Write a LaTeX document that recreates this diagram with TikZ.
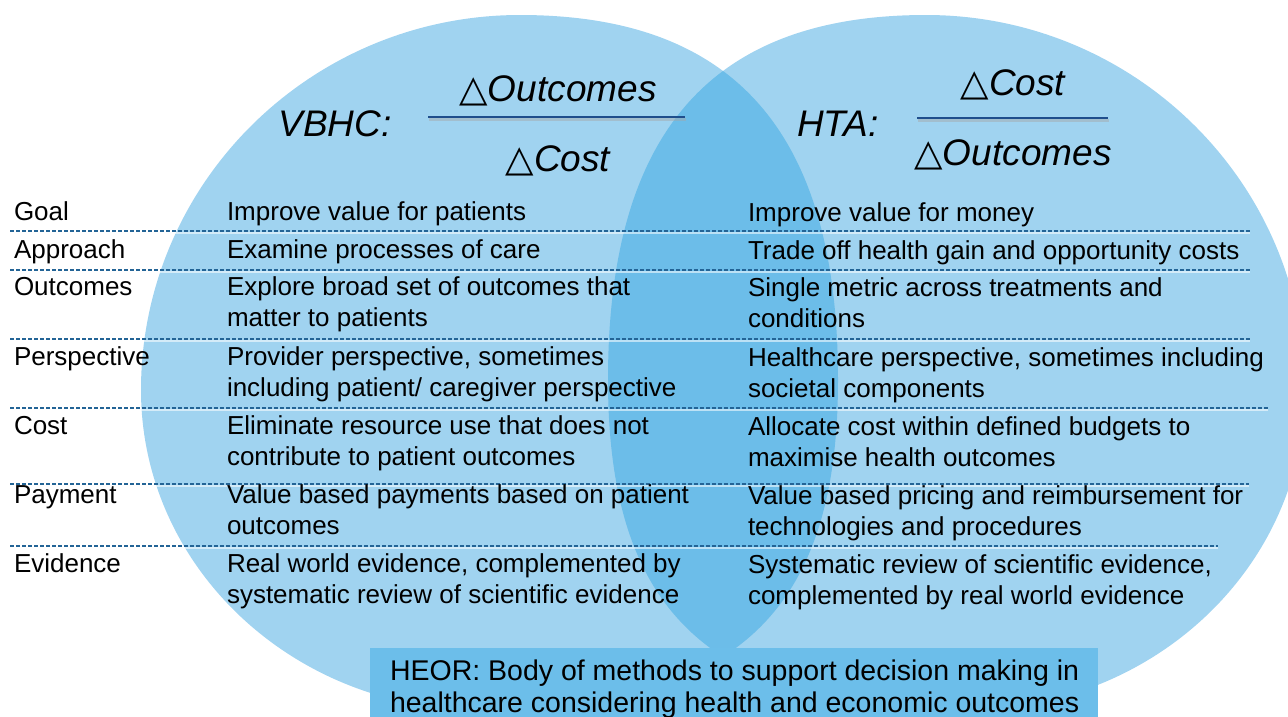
\documentclass[tikz,border=0pt]{standalone}
\usepackage{fontspec}
\setmainfont{Liberation Sans}
\newfontfamily\shapesfont{DejaVu Sans}
\usetikzlibrary{calc}

\definecolor{venn}{RGB}{160,211,240}
\definecolor{lens}{RGB}{108,189,233}
\definecolor{heorfill}{RGB}{108,190,234}
\definecolor{rule}{RGB}{31,78,140}
\definecolor{dashc}{RGB}{35,100,150}

% thin upright triangle used as the "difference" sign
\newcommand{\dsign}{{\upshape\shapesfont △}}

\begin{document}
\begin{tikzpicture}[x=1pt,y=-1pt,
  every node/.style={inner sep=0pt, outer sep=0pt},
  body/.style={anchor=base west, font=\fontsize{26}{31}\selectfont, text=black},
  formula/.style={anchor=base, font=\fontsize{37}{44}\selectfont\itshape, text=black},
  heortext/.style={anchor=base west, font=\fontsize{28.5}{33}\selectfont, text=black},
  fracrule/.style={draw=rule, line width=2.6pt},
  fracshadow/.style={draw=black!35, line width=2.6pt, opacity=0.45},
  rowsep/.style={draw=dashc, line width=1.2pt, dash pattern=on 4pt off 2pt},
  rowsepshadow/.style={draw=white, line width=1.6pt, opacity=0.55},
  % VBHC set: rounder on the outer side, fuller towards the overlap
  leftset/.style={insert path={
    (141,390) .. controls (141,183) and (311,15) .. (520,15)
              .. controls (735,15) and (838,133) .. (838,380)
              .. controls (838,614) and (734,710) .. (480,710)
              .. controls (293,710) and (141,567) .. (141,390) -- cycle}},
  % HTA set: mirror image of the VBHC set
  rightset/.style={insert path={
    (1305,390) .. controls (1305,183) and (1135,15) .. (926,15)
               .. controls (711,15) and (608,133) .. (608,380)
               .. controls (608,614) and (712,710) .. (966,710)
               .. controls (1153,710) and (1305,567) .. (1305,390) -- cycle}},
]
\useasboundingbox (0,0) rectangle (1288,716);
\clip (0,0) rectangle (1288,716);

% the two sets and their overlap
\fill[venn, leftset];
\fill[venn, rightset];
\begin{scope}
  \clip[leftset];
  \fill[lens, rightset];
\end{scope}

% HEOR banner at the bottom
\node[fill=heorfill, anchor=north west, minimum width=728pt, minimum height=90pt] (heor) at (370,648) {};
\node[heortext] (heor1) at (390,680) {HEOR: Body of methods to support decision making in};
\node[heortext] (heor2) at (390,712) {healthcare considering health and economic outcomes};

% row separators
\foreach \yy/\xe in {231/1250, 270/1250, 339/1250, 408/1268, 484/1249, 546/1218}{
  \draw[rowsepshadow] (10,\yy+2) -- (\xe,\yy+2);
  \draw[rowsep] (10,\yy) -- (\xe,\yy);
}

% VBHC ratio
\node[formula] (vbhc) at (335,136) {VBHC:};
\node[formula] (vnum) at (558,101) {\dsign Outcomes};
\node[formula] (vden) at (558,171) {\dsign Cost};
\coordinate (vfa) at (428,117);
\coordinate (vfb) at (685,117);
\draw[fracshadow] ($(vfa)+(1,2.5)$) -- ($(vfb)+(1,2.5)$);
\draw[fracrule] (vfa) -- (vfb);

% HTA ratio
\node[formula] (hta) at (838,136) {HTA:};
\node[formula] (hnum) at (1013,95) {\dsign Cost};
\node[formula] (hden) at (1013,165) {\dsign Outcomes};
\coordinate (hfa) at (917,118);
\coordinate (hfb) at (1108,118);
\draw[fracshadow] ($(hfa)+(1,2.5)$) -- ($(hfb)+(1,2.5)$);
\draw[fracrule] (hfa) -- (hfb);

% row labels
\node[body] (goal) at (14,220) {Goal};
\node[body] (approach) at (14,258) {Approach};
\node[body] (outcomes) at (14,295) {Outcomes};
\node[body] (perspective) at (14,365) {Perspective};
\node[body] (cost) at (14,434) {Cost};
\node[body] (payment) at (14,503) {Payment};
\node[body] (evidence) at (14,572) {Evidence};

% VBHC column
\node[body] (v1) at (227,220) {Improve value for patients};
\node[body] (v2) at (227,258) {Examine processes of care};
\node[body] (v3a) at (227,295) {Explore broad set of outcomes that};
\node[body] (v3b) at (227,326) {matter to patients};
\node[body] (v4a) at (227,365) {Provider perspective, sometimes};
\node[body] (v4b) at (227,396) {including patient/ caregiver perspective};
\node[body] (v5a) at (227,434) {Eliminate resource use that does not};
\node[body] (v5b) at (227,465) {contribute to patient outcomes};
\node[body] (v6a) at (227,503) {Value based payments based on patient};
\node[body] (v6b) at (227,534) {outcomes};
\node[body] (v7a) at (227,572) {Real world evidence, complemented by};
\node[body] (v7b) at (227,603) {systematic review of scientific evidence};

% HTA column
\node[body] (h1) at (748,221) {Improve value for money};
\node[body] (h2) at (748,259) {Trade off health gain and opportunity costs};
\node[body] (h3a) at (748,296) {Single metric across treatments and};
\node[body] (h3b) at (748,327) {conditions};
\node[body] (h4a) at (748,366) {Healthcare perspective, sometimes including};
\node[body] (h4b) at (748,397) {societal components};
\node[body] (h5a) at (748,435) {Allocate cost within defined budgets to};
\node[body] (h5b) at (748,466) {maximise health outcomes};
\node[body] (h6a) at (748,504) {Value based pricing and reimbursement for};
\node[body] (h6b) at (748,535) {technologies and procedures};
\node[body] (h7a) at (748,573) {Systematic review of scientific evidence,};
\node[body] (h7b) at (748,604) {complemented by real world evidence};
\end{tikzpicture}
\end{document}
